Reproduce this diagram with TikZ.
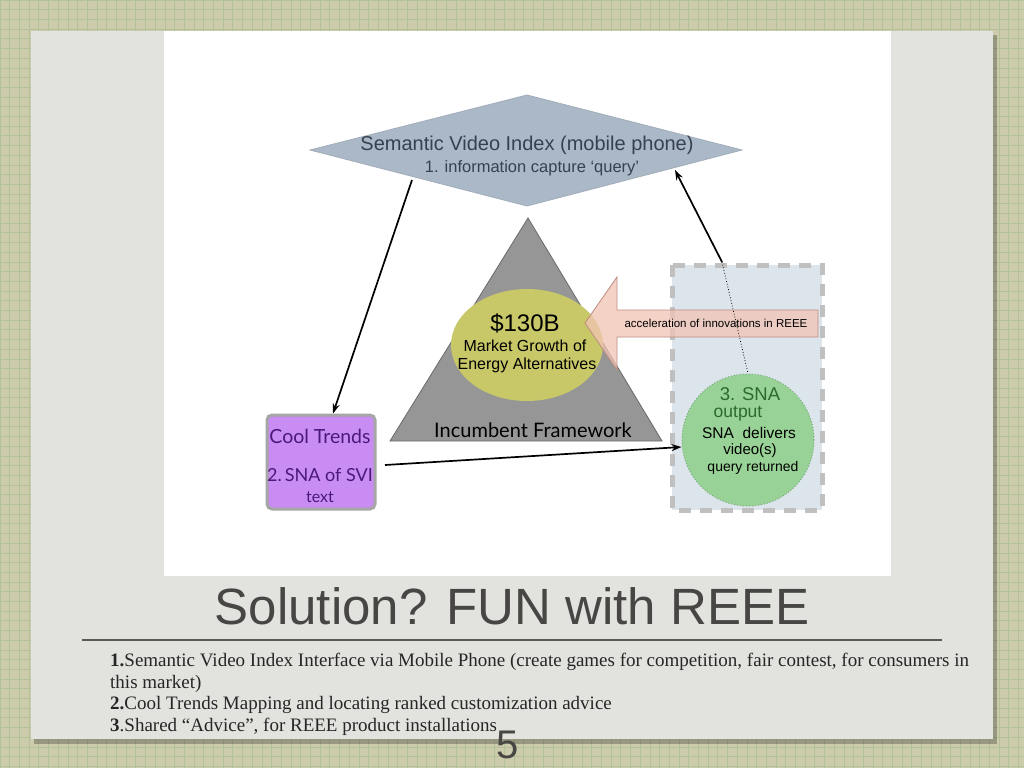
\documentclass[tikz,border=0pt]{standalone}
\usepackage{fontspec}
\setmainfont{Liberation Sans}
\newfontfamily\serif{Liberation Serif}
\newfontfamily\gill{Lato}
\usetikzlibrary{arrows.meta}
\definecolor{bggreen}{RGB}{204,204,172}
\definecolor{gridc}{RGB}{180,193,152}
\definecolor{paperc}{RGB}{226,227,222}
\definecolor{diafill}{RGB}{170,184,200}
\definecolor{diatext}{RGB}{55,65,80}
\definecolor{trifill}{RGB}{150,150,150}
\definecolor{ellfill}{RGB}{200,200,104}
\definecolor{boxfill}{RGB}{220,228,236}
\definecolor{boxdash}{RGB}{192,192,192}
\definecolor{pinkfill}{RGB}{242,196,180}
\definecolor{pinkdraw}{RGB}{190,140,130}
\definecolor{greenfill}{RGB}{152,210,150}
\definecolor{greentext}{RGB}{45,105,45}
\definecolor{violetfill}{RGB}{200,140,242}
\definecolor{violettext}{RGB}{75,25,120}
\definecolor{titlec}{RGB}{72,70,68}
\tikzset{
  conn/.style={line width=1.7pt, -{Stealth[length=10pt,width=7pt]}},
  lbl/.style={inner sep=0pt, align=center},
}
\newcommand{\fs}[1]{\fontsize{#1}{#1}\selectfont}
\begin{document}
\begin{tikzpicture}[x=1pt,y=-1pt]
\useasboundingbox (0,0) rectangle (1024,768);
% background grid
\fill[bggreen] (0,0) rectangle (1024,768);
\foreach \i in {0,...,106} {
  \draw[gridc, line width=0.7pt] ({\i*9.7},0) -- ({\i*9.7},768);
}
\foreach \i in {0,...,80} {
  \draw[gridc, line width=0.7pt] (0,{\i*9.7}) -- (1024,{\i*9.7});
}
% paper
\fill[black, opacity=0.25] (34,35) rectangle (997,744);
\fill[paperc] (31,31) rectangle (993,739);
\fill[white] (164,31) rectangle (891,576);
% diamond
\draw[diafill!80!gray, fill=diafill, line width=0.8pt] (310,150) -- (527,95) -- (742,150) -- (527,206) -- cycle;
\coordinate (dl) at (412,180);
\coordinate (dr) at (675,170);
\node[lbl, text=diatext, font=\fs{20}] (svi) at (527,145) {Semantic Video Index (mobile phone)};
\node[lbl, text=diatext, font=\fs{16.5}] (svi2) at (532,168) {1. information capture ‘query’};
% triangle
\draw[trifill!70!black, fill=trifill, line width=0.8pt] (528,218) -- (662,441) -- (390,441) -- cycle;
\node[lbl, font=\gill\fs{20}] (inc) at (533,430) {Incumbent Framework};
% ellipse
\fill[ellfill] (527,345) ellipse [x radius=76, y radius=56];
\node[lbl, font=\fs{24}] (amt) at (525,323) {\$130B};
\node[lbl, font=\fs{16}] (mg) at (525,346) {Market Growth of};
\node[lbl, font=\fs{16}] (ea) at (527,365) {Energy Alternatives};
% dashed box
\draw[boxdash, fill=boxfill, line width=5pt, dash pattern=on 12pt off 9pt] (672,265) rectangle (822,510);
% pink arrow block
\draw[pinkdraw, fill=pinkfill, fill opacity=0.75, line width=0.8pt] (585,323) -- (617,277) -- (617,310) -- (818,310) -- (818,337) -- (617,337) -- (617,370) -- cycle;
\node[lbl, font=\fs{11.5}] (acc) at (716,323) {acceleration of innovations in REEE};
% green circle
\node[circle, minimum size=132pt, inner sep=0pt, fill=greenfill, draw=greenfill!80!black, dotted, line width=1pt] (sna) at (748,440) {};
\node[lbl, text=greentext, font=\fs{18.5}] (sna1) at (750,394) {3. SNA};
\node[lbl, text=greentext, font=\fs{17.5}] (sna2) at (738,414) {output};
\node[lbl, font=\fs{15.5}] (sna3) at (749,433) {SNA\ \ delivers};
\node[lbl, font=\fs{15}] (sna4) at (750,451) {video(s)};
\node[lbl, font=\fs{14}] (sna5) at (753,468) {query returned};
% cool trends box
\node[draw=gray!70, line width=3pt, rounded corners=5pt, fill=violetfill, minimum width=108pt, minimum height=94pt, inner sep=0pt] (ct) at (321,462) {};
\node[lbl, text=violettext, font=\gill\fs{19.5}] (ct1) at (320,436) {Cool Trends};
\node[lbl, text=violettext, font=\gill\fs{18}] (ct2) at (320,475) {2.\,SNA of SVI};
\node[lbl, text=violettext, font=\gill\fs{16}] (ct3) at (320,497) {text};
% connectors
\coordinate (up) at (722,262);
\draw[conn] (dl) -- (ct.north -| 333,0);
\draw[conn] (385,465) coordinate (ctr) -- (sna.west |- 0,447);
\draw[conn] (up) -- (dr);
\draw[dotted, line width=0.8pt] (up) -- (sna.north);
% title
\node[lbl, text=titlec, font=\fs{51}] (title) at (512,606) {Solution? FUN with REEE};
\draw[gray!70!black, line width=1.5pt] (82,640) -- (942,640);
\begin{scope}[every node/.style={lbl, anchor=base west, font=\serif\fs{19}, text=black!85}]
\node (l1) at (110,666) {\textbf{1.}Semantic Video Index Interface via Mobile Phone (create games for competition, fair contest, for consumers in};
\node (l2) at (110,688) {this market)};
\node (l3) at (110,709) {\textbf{2.}Cool Trends Mapping and locating ranked customization advice};
\node (l4) at (110,731) {\textbf{3}.Shared “Advice”, for REEE product installations};
\end{scope}
\node[lbl, text=titlec, font=\fs{40}] (pg) at (508,745) {5};
\end{tikzpicture}
\end{document}
